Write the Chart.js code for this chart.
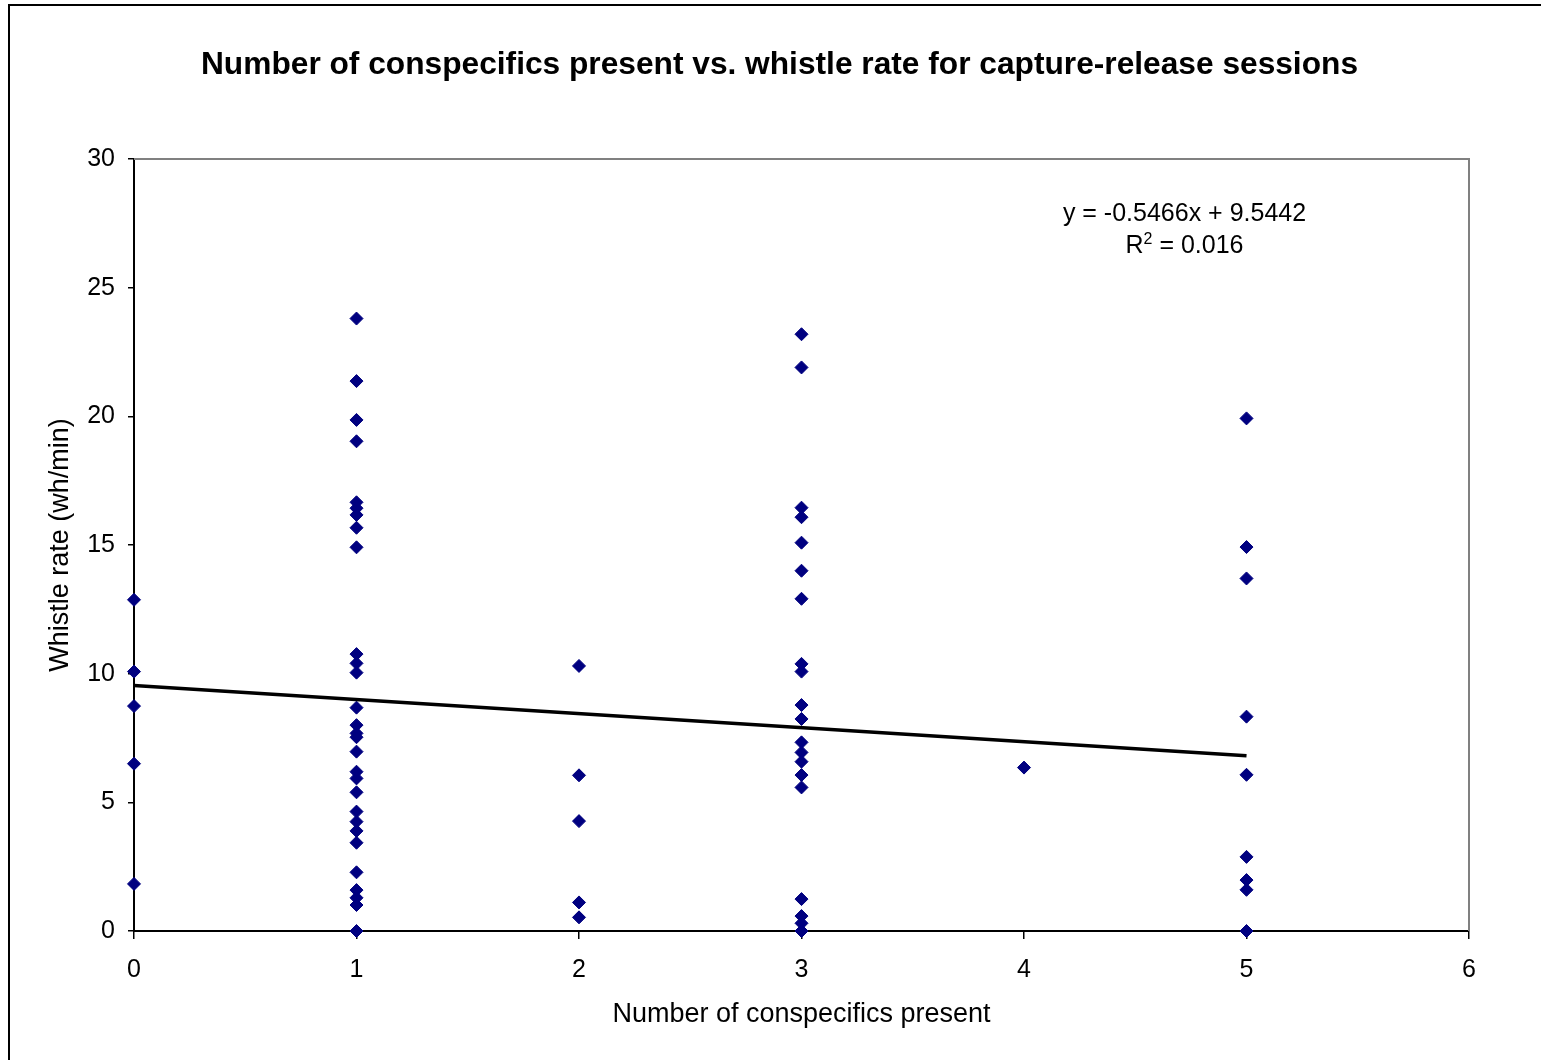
<!DOCTYPE html>
<html>
<head>
<meta charset="utf-8">
<title>Number of conspecifics present vs. whistle rate</title>
<script src="https://cdn.jsdelivr.net/npm/chart.js@4/dist/chart.umd.min.js"></script>
<style>
    html, body { margin: 0; padding: 0; background: #fff; }
    canvas { display: block; }
</style>
</head>
<body>
<canvas id="chart" width="1541" height="1060"></canvas>
<script>

    // whistle rates (wh/min), one list per number of conspecifics present
    var conspecifics = [0, 1, 2, 3, 4, 5];
    var ratesWith0 = [12.87, 10.08, 8.74, 6.5, 1.83];
    var ratesWith1 = [23.8, 21.37, 19.86, 19.03, 16.66, 16.43, 16.17, 15.67, 14.91,
        10.76, 10.4, 10.04, 8.68, 8.0, 7.68, 7.53, 6.97, 6.19, 5.93, 5.39,
        4.64, 4.25, 3.89, 3.43, 2.28, 1.59, 1.29, 1.01, 0];
    var ratesWith2 = [10.3, 6.05, 4.27, 1.11, 0.53];
    var ratesWith3 = [23.19, 21.9, 16.45, 16.08, 15.09, 14.0, 12.91, 10.38, 10.08,
        8.78, 8.24, 7.33, 6.94, 6.58, 6.06, 5.58, 1.24, 0.58, 0.3, 0];
    var ratesWith4 = [6.35];
    var ratesWith5 = [19.92, 14.92, 13.7, 8.33, 6.07, 2.88, 1.98, 1.6, 0];

    // linear trend (Excel trendline)
    var trendSlope = -0.5466;
    var trendIntercept = 9.5442;
    var trendR2 = '0.016';
    var trendFrom = 0;
    var trendTo = 5;

    // axes
    var xMax = 6, xStep = 1;
    var yMax = 30, yStep = 5;

    var titleText = 'Number of conspecifics present vs. whistle rate for capture-release sessions';
    var xTitle = 'Number of conspecifics present';
    var yTitle = 'Whistle rate (wh/min)';

    var FONT = '"Liberation Sans", Arial, Helvetica, sans-serif';
    Chart.defaults.font.family = FONT;
    Chart.defaults.color = '#000';

    var points = [];
    [ratesWith0, ratesWith1, ratesWith2, ratesWith3, ratesWith4, ratesWith5].forEach(function (list, i) {
        list.forEach(function (v) {
            points.push({ x: conspecifics[i], y: v });
        });
    });

    var trend = [trendFrom, trendTo].map(function (x) {
        return { x: x, y: trendSlope * x + trendIntercept };
    });


    // white page, plot-area frame, outer border, title and trendline label
    var decor = {
        id: 'decor',
        beforeDraw: function (chart) {
            var ctx = chart.ctx;
            ctx.save();
            ctx.fillStyle = '#fff';
            ctx.fillRect(0, 0, chart.width, chart.height);
            ctx.restore();
        },
        beforeDatasetsDraw: function (chart) {
            var ctx = chart.ctx;
            var a = chart.chartArea;
            ctx.save();
            ctx.strokeStyle = '#808080';
            ctx.lineWidth = 2;
            ctx.beginPath();
            ctx.moveTo(a.left, a.top);
            ctx.lineTo(a.right, a.top);
            ctx.lineTo(a.right, a.bottom);
            ctx.stroke();
            ctx.restore();
        },
        afterDraw: function (chart) {
            var ctx = chart.ctx;
            ctx.save();

            // outer chart border (left and top edges fall inside the page)
            ctx.strokeStyle = '#000';
            ctx.lineWidth = 2;
            ctx.beginPath();
            ctx.moveTo(9, chart.height);
            ctx.lineTo(9, 5);
            ctx.lineTo(chart.width, 5);
            ctx.stroke();

            ctx.fillStyle = '#000';
            ctx.textAlign = 'center';
            ctx.textBaseline = 'alphabetic';
            ctx.font = 'bold 31.7px ' + FONT;
            ctx.fillText(titleText, 779.5, 74);

            // equation, centred above the right part of the plot
            var cx = 1184.5;
            ctx.font = '25px ' + FONT;
            var sign = trendIntercept < 0 ? ' - ' : ' + ';
            ctx.fillText('y = ' + trendSlope.toFixed(4) + 'x' + sign + Math.abs(trendIntercept).toFixed(4), cx, 221);

            var r = 'R', rest = ' = ' + trendR2;
            var wR = ctx.measureText(r).width;
            var wRest = ctx.measureText(rest).width;
            ctx.font = '16px ' + FONT;
            var wSup = ctx.measureText('2').width;
            var x0 = cx - (wR + wSup + wRest) / 2;
            ctx.textAlign = 'left';
            ctx.font = '25px ' + FONT;
            ctx.fillText(r, x0, 253);
            ctx.fillText(rest, x0 + wR + wSup, 253);
            ctx.font = '16px ' + FONT;
            ctx.fillText('2', x0 + wR, 244);

            ctx.restore();
        }
    };


    var chart = new Chart(document.getElementById('chart').getContext('2d'), {
        type: 'scatter',
        data: {
            datasets: [
                {
                    label: 'Linear trend',
                    data: trend,
                    showLine: true,
                    borderColor: '#000',
                    borderWidth: 3.5,
                    pointRadius: 0,
                    fill: false,
                    clip: false,
                    order: 0,
                },
                {
                    label: 'Sessions',
                    data: points,
                    pointStyle: 'rectRot',
                    pointRadius: 6.5,
                    backgroundColor: '#000080',
                    borderColor: '#000080',
                    borderWidth: 1,
                    clip: false,
                    order: 1,
                },
            ],
        },
        options: {
            responsive: false,
            animation: false,
            events: [],
            layout: { padding: { top: 159, right: 72, bottom: 0, left: 0 } },
            plugins: {
                legend: { display: false },
                tooltip: { enabled: false },
                title: { display: false },
            },
            scales: {
                x: {
                    type: 'linear',
                    min: 0,
                    max: xMax,
                    ticks: { stepSize: xStep, color: '#000', font: { size: 25 }, padding: 16 },
                    grid: { drawOnChartArea: false, drawTicks: true, tickLength: 8, color: '#000', lineWidth: 1.5 },
                    border: { color: '#000', width: 2 },
                    title: {
                        display: true, text: xTitle, color: '#000',
                        font: { size: 27 }, padding: { top: 0, bottom: 29 },
                    },
                    afterFit: function (scale) { scale.height = 129; },
                },
                y: {
                    type: 'linear',
                    min: 0,
                    max: yMax,
                    ticks: { stepSize: yStep, color: '#000', font: { size: 25 }, padding: 13 },
                    grid: { drawOnChartArea: false, drawTicks: true, tickLength: 6, color: '#000', lineWidth: 1.5 },
                    border: { color: '#000', width: 2 },
                    title: {
                        display: true, text: yTitle, color: '#000',
                        font: { size: 27 }, padding: { top: 44, bottom: 0 },
                    },
                    afterFit: function (scale) { scale.width = 134; },
                },
            },
        },
        plugins: [decor],
    });

</script>
</body>
</html>
